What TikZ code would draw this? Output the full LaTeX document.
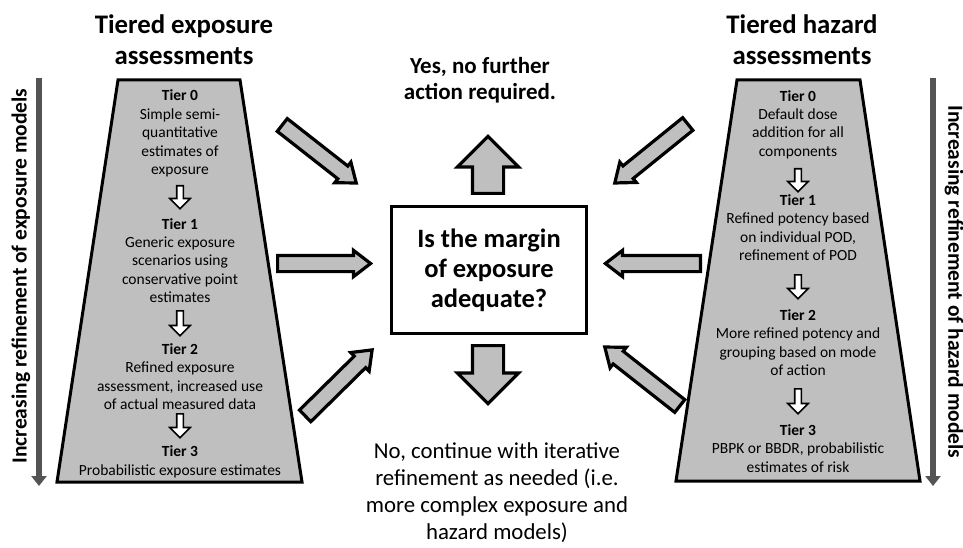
\documentclass[tikz,border=0pt]{standalone}
\usepackage{fontspec}
\setmainfont{Carlito}
\usepackage{tikz}
\usetikzlibrary{shapes.arrows, arrows.meta, calc, positioning}

\tikzset{
    tiertext/.style={align=center, font=\fontsize{15.5}{18.4}\selectfont},
    titletext/.style={align=center, font=\fontsize{26.8}{31}\selectfont\bfseries},
    sidetext/.style={font=\fontsize{21.5}{24}\selectfont\bfseries},
    trapez/.style={draw=black, line width=3pt, fill=black!25, line join=miter},
    sidearrow/.style={line width=6pt, draw=black!67, -{Triangle[width=15pt,length=10pt]}},
    bigarrow/.style={single arrow, draw=black, line width=3.2pt, fill=black!25,
        inner sep=0pt, text height=13pt, text depth=0pt,
        single arrow head extend=5pt, single arrow tip angle=75},
    fatarrow/.style={bigarrow, text height=28pt, single arrow head extend=15pt,
        single arrow tip angle=90},
    tierarrow/.style={single arrow, draw=black, line width=1.6pt, fill=white,
        inner sep=0pt, text height=5pt, text depth=0pt,
        single arrow head extend=7pt, single arrow tip angle=90}
}

% block arrow from tail to tip: [style]{name}{tail}{tip}
\newcommand{\blockarrow}[4][bigarrow]{%
    \path let \p1=($(#4)-(#3)$), \n1={atan2(\y1,\x1)}, \n2={veclen(\x1,\y1)} in
        (#3) node[#1, rotate=\n1, minimum height=\n2, anchor=tail] (#2) {};}

\begin{document}
\begin{tikzpicture}[x=1pt, y=-1pt]
    \useasboundingbox (0,0) rectangle (963,548);

    % Titles
    \node[titletext] (etitle) at (184,40) {Tiered exposure\\assessments};
    \node[titletext] (htitle) at (802,40) {Tiered hazard\\assessments};

    % Side arrows and labels
    \coordinate (etop) at (39,78);
    \coordinate (ebot) at (39,486);
    \coordinate (htop) at (933,78);
    \coordinate (hbot) at (933,486);
    \draw[sidearrow] (etop) -- (ebot);
    \draw[sidearrow] (htop) -- (hbot);
    \node[sidetext, rotate=90] (elabel) at (21,276) {Increasing refinement of exposure models};
    \node[sidetext, rotate=-90] (hlabel) at (954,282) {Increasing refinement of hazard models};

    % Exposure tiers
    \draw[trapez] (118,80) -- (240,80) -- (302,482) -- (57,482) -- cycle;
    \node[tiertext] (etier0) at (180,133.5) {\textbf{Tier 0}\\Simple semi-\\quantitative\\estimates of\\exposure};
    \node[tiertext] (etier1) at (180,260.5) {\textbf{Tier 1}\\Generic exposure\\scenarios using\\conservative point\\estimates};
    \node[tiertext] (etier2) at (180,376.5) {\textbf{Tier 2}\\Refined exposure\\assessment, increased use\\of actual measured data};
    \node[tiertext] (etier3) at (180,462) {\textbf{Tier 3}\\Probabilistic exposure estimates};
    \foreach \i/\a/\b in {1/185/208, 2/310/335, 3/413/437} {
        \coordinate (ea\i) at (180,\a);
        \coordinate (eb\i) at (180,\b);
        \blockarrow[tierarrow]{earr\i}{ea\i}{eb\i}
    }

    % Hazard tiers
    \draw[trapez] (737,80) -- (860,80) -- (920,481) -- (676,481) -- cycle;
    \node[tiertext] (htier0) at (798,124.5) {\textbf{Tier 0}\\Default dose\\addition for all\\components};
    \node[tiertext] (htier1) at (798,227.5) {\textbf{Tier 1}\\Refined potency based\\on individual POD,\\refinement of POD};
    \node[tiertext] (htier2) at (798,342.5) {\textbf{Tier 2}\\More refined potency and\\grouping based on mode\\of action};
    \node[tiertext] (htier3) at (798,448.5) {\textbf{Tier 3}\\PBPK or BBDR, probabilistic\\estimates of risk};
    \foreach \i/\a/\b in {1/168/191, 2/274/298, 3/388/413} {
        \coordinate (ha\i) at (798,\a);
        \coordinate (hb\i) at (798,\b);
        \blockarrow[tierarrow]{harr\i}{ha\i}{hb\i}
    }

    % Question box
    \node[draw, line width=3pt, minimum width=195pt, minimum height=127pt, align=center,
        font=\fontsize{26.5}{30}\selectfont\bfseries] (question) at (489,270)
        {Is the margin\\of exposure\\adequate?};
    \node[align=center, font=\fontsize{23}{26.5}\selectfont\bfseries] (yes) at (480,80)
        {Yes, no further\\action required.};
    \node[align=center, inner sep=0pt, font=\fontsize{22.8}{27}\selectfont] (no) at (497,493)
        {No, continue with iterative\\refinement as needed (i.e.\\more complex exposure and\\hazard models)};

    % Arrows into the box
    \coordinate (tlt) at (281,124);  \coordinate (tlh) at (355,182);
    \coordinate (trt) at (689,123);  \coordinate (trh) at (616,182);
    \coordinate (mlt) at (276,263.5); \coordinate (mlh) at (369,263.5);
    \coordinate (mrt) at (702,263.5); \coordinate (mrh) at (607,263.5);
    \coordinate (blt) at (304,417);  \coordinate (blh) at (371,351);
    \coordinate (brt) at (681,407);  \coordinate (brh) at (606,348);
    \blockarrow{tlarr}{tlt}{tlh}
    \blockarrow{trarr}{trt}{trh}
    \blockarrow{mlarr}{mlt}{mlh}
    \blockarrow{mrarr}{mrt}{mrh}
    \blockarrow{blarr}{blt}{blh}
    \blockarrow{brarr}{brt}{brh}

    % Arrows out of the box
    \coordinate (upt) at (488,195);   \coordinate (uph) at (488,138);
    \coordinate (dnt) at (488,344);   \coordinate (dnh) at (488,402);
    \blockarrow[fatarrow]{uparr}{upt}{uph}
    \blockarrow[fatarrow]{dnarr}{dnt}{dnh}
\end{tikzpicture}
\end{document}
